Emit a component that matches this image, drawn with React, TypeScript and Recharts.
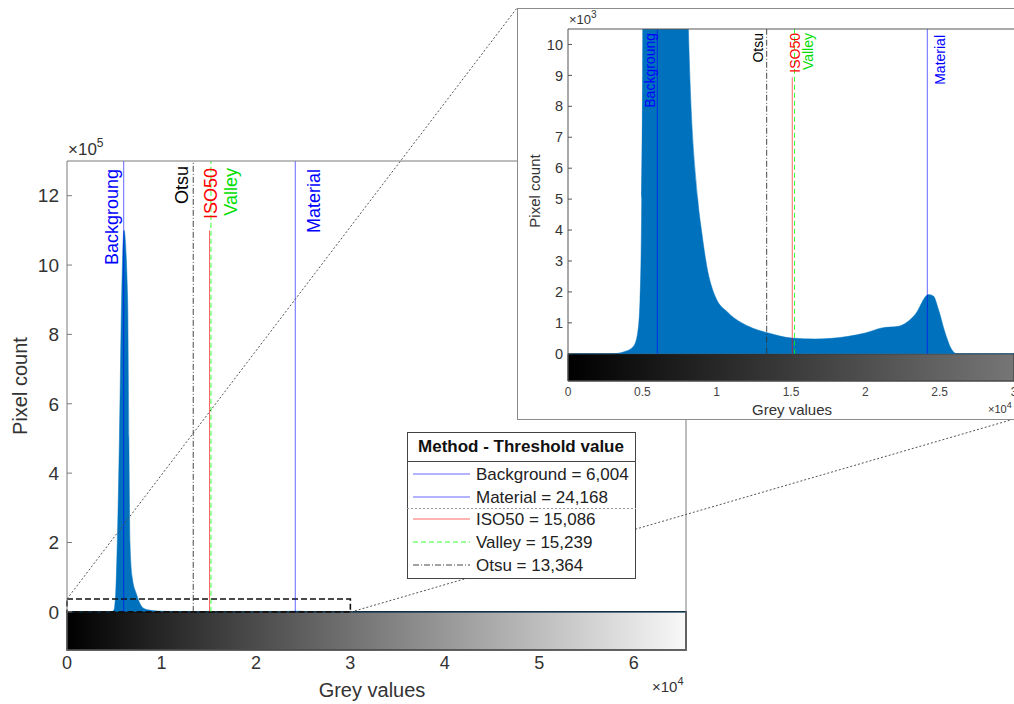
import { ComposedChart, Area, XAxis, YAxis, ReferenceLine, ReferenceArea } from 'recharts'

// histogram: grey value -> pixel count
const greyValues = [0, 2940, 3835, 4397, 4688, 4845, 4957, 5025, 5080, 5150, 5325, 5550, 5780, 6030, 6420, 6550, 6667, 6900, 7370, 7800, 8098, 8726, 8996, 9332, 9892, 10790, 12136, 13480, 15050, 16620, 18860, 19990, 21110, 22230, 23350, 24250, 24580, 24920, 25370, 25820, 26160, 30000, 65535]
const pixelCounts = [0, 0, 75, 237, 672, 1756, 5008, 10500, 25000, 50000, 200000, 500000, 900000, 1100000, 900000, 500000, 200000, 100000, 50000, 20000, 10500, 5000, 3925, 2840, 1865, 1322, 889, 672, 509, 477, 564, 672, 835, 889, 1268, 1919, 1865, 1431, 672, 130, 0, 0, 0]

// threshold methods
const methods = ['Background', 'Material', 'ISO50', 'Valley', 'Otsu']
const plotLabels = ['Backgroung', 'Material', 'ISO50', 'Valley', 'Otsu']
const thresholds = [6004, 24168, 15086, 15239, 13364]
const mainLineTops = [1300000, 1300000, 1100000, 1300000, 1300000]
const insetLineTops = [10500, 10500, 8940, 10500, 10500]

const xTicksMain = [0, 10000, 20000, 30000, 40000, 50000, 60000]
const yTicksMain = [0, 200000, 400000, 600000, 800000, 1000000, 1200000]
const xTicksInset = [0, 5000, 10000, 15000, 20000, 25000, 30000]
const yTicksInset = [0, 1000, 2000, 3000, 4000, 5000, 6000, 7000, 8000, 9000, 10000]

const zoomBox = { x: 30000, y: 37000 }

const histogram = greyValues.map((g, i) => ({ grey: g, count: pixelCounts[i] }))

const STYLES: Record<string, any> = {
  Background: { stroke: '#0000ff', op: 0.6, dash: undefined, text: '#0000ff', main: [-6, 8], inset: [-2, 4] },
  Material: { stroke: '#0000ff', op: 0.6, dash: undefined, text: '#0000ff', main: [25, 8], inset: [18, 6] },
  ISO50: { stroke: '#ff0000', op: 0.6, dash: undefined, text: '#ff0000', main: [8, 7], inset: [8, 4] },
  Valley: { stroke: '#00ff00', op: 0.8, dash: '5 3', text: '#00dd00', main: [26, 7], inset: [18, 4] },
  Otsu: { stroke: '#333333', op: 0.9, dash: '6 2 1 2', text: '#000000', main: [-5, 5], inset: [-4, 4] }
}

const AXIS = '#7a7a7a'
const FONT = '"Liberation Sans", Arial, sans-serif'

const rotLabel = (text: string, color: string, dx: number, dy: number, size: number) => (props: any) => {
  const vb = props.viewBox
  const x = vb.x + dx
  const y = vb.y + dy
  return (
    <text x={x} y={y} transform={`rotate(-90 ${x} ${y})`} textAnchor="end" fill={color} fontSize={size}>
      {text}
    </text>
  )
}

function MainChart() {
  return (
    <ComposedChart width={700} height={704} data={histogram} margin={{ top: 156, right: 9, bottom: 24, left: 37 }}>
      <XAxis xAxisId="b" dataKey="grey" type="number" domain={[0, 65535]} ticks={xTicksMain} interval={0}
        tickFormatter={(v: number) => String(v / 1e4)} height={30} tickLine={false} tickSize={0} tickMargin={6}
        axisLine={{ stroke: AXIS }} tick={{ fontSize: 18, fill: '#333' }} />
      <XAxis xAxisId="t" orientation="top" type="number" domain={[0, 65535]} ticks={xTicksMain} interval={0}
        height={5} tick={false} tickSize={-5} axisLine={{ stroke: AXIS }} tickLine={{ stroke: AXIS }} />
      <YAxis yAxisId="l" type="number" domain={[-110000, 1300000]} ticks={yTicksMain} interval={0}
        tickFormatter={(v: number) => String(v / 1e5)} width={30} tickSize={-5} tickMargin={13}
        axisLine={{ stroke: AXIS }} tickLine={{ stroke: AXIS }} tick={{ fontSize: 19, fill: '#333' }} />
      <YAxis yAxisId="r" orientation="right" type="number" domain={[-110000, 1300000]} ticks={yTicksMain} interval={0}
        width={5} tick={false} tickSize={-5} axisLine={{ stroke: AXIS }} tickLine={{ stroke: AXIS }} />
      <ReferenceArea xAxisId="b" yAxisId="l" x1={0} x2={65535} y1={-110000} y2={0}
        fill="url(#cbMain)" fillOpacity={1} stroke="#111" strokeWidth={1.5} />
      <Area xAxisId="b" yAxisId="l" dataKey="count" type="monotone" baseValue={0} fill="#0072BD" fillOpacity={1}
        stroke="#0072BD" strokeWidth={0.5} dot={false} activeDot={false} isAnimationActive={false} />
      {methods.map((m, i) => (
        <ReferenceLine key={m} xAxisId="b" yAxisId="l" segment={[{ x: thresholds[i], y: 0 }, { x: thresholds[i], y: mainLineTops[i] }]}
          stroke={STYLES[m].stroke} strokeOpacity={STYLES[m].op} strokeDasharray={STYLES[m].dash} strokeWidth={1} />
      ))}
      {methods.map((m, i) => (
        <ReferenceLine key={m + 'l'} xAxisId="b" yAxisId="l" x={thresholds[i]} stroke="none"
          label={rotLabel(plotLabels[i], STYLES[m].text, STYLES[m].main[0], STYLES[m].main[1], 18)} />
      ))}
      <ReferenceArea xAxisId="b" yAxisId="l" x1={0} x2={zoomBox.x} y1={0} y2={zoomBox.y}
        fill="none" stroke="#111" strokeWidth={1.6} strokeDasharray="6 3" />
    </ComposedChart>
  )
}

function InsetChart() {
  return (
    <ComposedChart width={500} height={411} data={histogram} margin={{ top: 16, right: 3, bottom: 14, left: 21 }}>
      <XAxis xAxisId="b" dataKey="grey" type="number" domain={[0, 30000]} ticks={xTicksInset} interval={0} allowDataOverflow
        tickFormatter={(v: number) => String(v / 1e4)} height={24} tickLine={false} tickSize={0} tickMargin={6}
        axisLine={{ stroke: '#555' }} tick={{ fontSize: 12, fill: '#444' }} />
      <XAxis xAxisId="t" orientation="top" type="number" domain={[0, 30000]} ticks={xTicksInset} interval={0} allowDataOverflow
        height={5} tick={false} tickSize={-4} axisLine={{ stroke: '#555' }} tickLine={{ stroke: '#555' }} />
      <YAxis yAxisId="l" type="number" domain={[-880, 10500]} ticks={yTicksInset} interval={0} allowDataOverflow
        tickFormatter={(v: number) => String(v / 1e3)} width={30} tickSize={-4} tickMargin={9}
        axisLine={{ stroke: '#555' }} tickLine={{ stroke: '#555' }} tick={{ fontSize: 14.5, fill: '#333' }} />
      <ReferenceArea xAxisId="b" yAxisId="l" x1={0} x2={30000} y1={-880} y2={0}
        fill="url(#cbInset)" fillOpacity={1} stroke="#333" strokeWidth={1} />
      <Area xAxisId="b" yAxisId="l" dataKey="count" type="monotone" baseValue={0} fill="#0072BD" fillOpacity={1}
        stroke="#0072BD" strokeWidth={0.5} dot={false} activeDot={false} isAnimationActive={false} />
      {methods.map((m, i) => (
        <ReferenceLine key={m} xAxisId="b" yAxisId="l" segment={[{ x: thresholds[i], y: 0 }, { x: thresholds[i], y: insetLineTops[i] }]}
          stroke={STYLES[m].stroke} strokeOpacity={STYLES[m].op} strokeDasharray={STYLES[m].dash} strokeWidth={1} />
      ))}
      {methods.map((m, i) => (
        <ReferenceLine key={m + 'l'} xAxisId="b" yAxisId="l" x={thresholds[i]} stroke="none"
          label={rotLabel(plotLabels[i], STYLES[m].text, STYLES[m].inset[0], STYLES[m].inset[1], 14)} />
      ))}
    </ComposedChart>
  )
}

function ThresholdLegend() {
  const rows = [48, 71, 93, 116, 139]
  return (
    <svg style={{ position: 'absolute', left: 407, top: 432 }} width={230} height={148}>
      <rect x={0.5} y={0.5} width={228} height={146} fill="#fff" stroke="#444" />
      <text x={114} y={20} textAnchor="middle" fontSize={17} fontWeight="bold" fill="#111">Method - Threshold value</text>
      <line x1={0} x2={229} y1={29.5} y2={29.5} stroke="#444" />
      <line x1={0} x2={229} y1={76.5} y2={76.5} stroke="#999" strokeDasharray="2 2" />
      {methods.map((m, i) => (
        <g key={m}>
          <line x1={6} x2={63} y1={rows[i] - 6} y2={rows[i] - 6} stroke={STYLES[m].stroke}
            strokeOpacity={STYLES[m].op} strokeDasharray={STYLES[m].dash} />
          <text x={69} y={rows[i]} fontSize={17} fill="#222">{`${m} = ${thresholds[i].toLocaleString('en-US')}`}</text>
        </g>
      ))}
    </svg>
  )
}

export default function App() {
  return (
    <div style={{ position: 'absolute', left: 0, top: 0, width: 1014, height: 704, overflow: 'hidden', background: '#fff', fontFamily: FONT }}>
      <svg width={0} height={0} style={{ position: 'absolute' }}>
        <defs>
          <linearGradient id="cbMain" x1="0" x2="1" y1="0" y2="0">
            <stop offset="0" stopColor="#000" />
            <stop offset="1" stopColor="#f8f8f8" />
          </linearGradient>
          <linearGradient id="cbInset" x1="0" x2="1" y1="0" y2="0">
            <stop offset="0" stopColor="#000" />
            <stop offset="1" stopColor="#767676" />
          </linearGradient>
        </defs>
      </svg>
      <div style={{ position: 'absolute', left: 0, top: 0 }}>
        <MainChart />
      </div>
      <svg style={{ position: 'absolute', left: 0, top: 0 }} width={1014} height={704}>
        <line x1={67} y1={599} x2={517} y2={8} stroke="#555" strokeDasharray="2 2" />
        <line x1={351} y1={612} x2={1014} y2={419} stroke="#555" strokeDasharray="2 2" />
        <text x={27} y={386} transform="rotate(-90 27 386)" textAnchor="middle" fontSize={20} fill="#333">Pixel count</text>
        <text x={372} y={697} textAnchor="middle" fontSize={20} fill="#333">Grey values</text>
        <text x={68} y={155} fontSize={17} fill="#333">×10<tspan dy={-8} fontSize={12}>5</tspan></text>
        <text x={652} y={692} fontSize={15} fill="#333">×10<tspan dy={-7} fontSize={11}>4</tspan></text>
      </svg>
      <ThresholdLegend />
      <div style={{ position: 'absolute', left: 517, top: 8, width: 520, height: 412, background: '#fff', border: '1px solid #8c8c8c', boxSizing: 'border-box' }} />
      <div style={{ position: 'absolute', left: 517, top: 8 }}>
        <InsetChart />
      </div>
      <svg style={{ position: 'absolute', left: 0, top: 0 }} width={1014} height={704}>
        <text x={540} y={191} transform="rotate(-90 540 191)" textAnchor="middle" fontSize={15} fill="#333">Pixel count</text>
        <text x={792} y={415} textAnchor="middle" fontSize={15} fill="#333">Grey values</text>
        <text x={569} y={24} fontSize={13} fill="#333">×10<tspan dy={-6} fontSize={10}>3</tspan></text>
        <text x={988} y={413} fontSize={11} fill="#333">×10<tspan dy={-5} fontSize={9}>4</tspan></text>
      </svg>
    </div>
  )
}
